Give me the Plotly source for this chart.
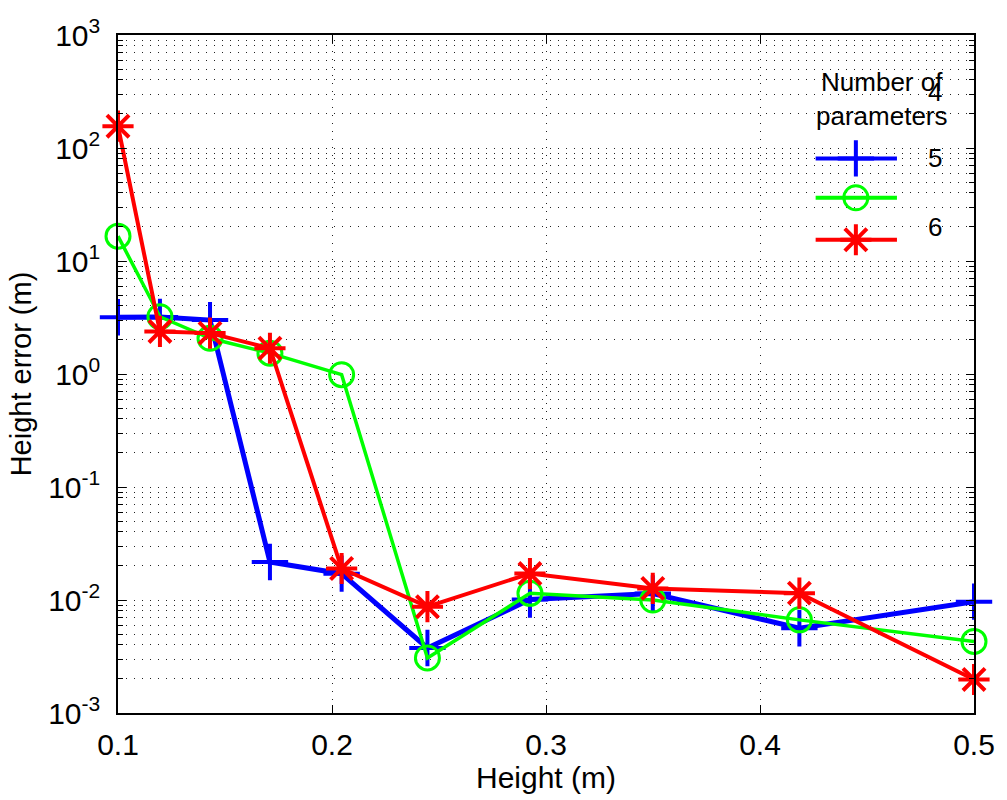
import plotly.graph_objects as go

# Reference heights (m) shared by all three fits
height = [0.1, 0.1196, 0.1430, 0.1710, 0.2045, 0.2446, 0.2925, 0.3499, 0.4184, 0.5]

# Height error (m) for each number of fitted parameters
err_4 = [3.18, 3.20, 3.00, 0.0217, 0.0171, 0.00376, 0.0101, 0.0114, 0.00563, 0.00967]
err_5 = [16.6, 3.21, 2.07, 1.53, 0.986, 0.00307, 0.01145, 0.0100, 0.00667, 0.0043]
err_6 = [156.0, 2.38, 2.30, 1.69, 0.0190, 0.00873, 0.01714, 0.01267, 0.0115, 0.00198]

legend_title = "Number of<br>parameters"
legend_labels = ["4", "5", "6"]

y_ticks = [1e-3, 1e-2, 1e-1, 1e0, 1e1, 1e2, 1e3]
y_ticktext = ["10<sup>-3</sup>", "10<sup>-2</sup>", "10<sup>-1</sup>", "10<sup>0</sup>",
              "10<sup>1</sup>", "10<sup>2</sup>", "10<sup>3</sup>"]
x_ticks = [0.1, 0.2, 0.3, 0.4, 0.5]

FONT = "Liberation Sans, Arial, sans-serif"
BLUE, GREEN, RED = "#0000FF", "#00FF00", "#FF0000"

series = [
    (err_4, BLUE, 5, dict(symbol="cross-thin", size=26, color=BLUE, line=dict(color=BLUE, width=4))),
    (err_5, GREEN, 3.5, dict(symbol="circle-open", size=24, color=GREEN, line=dict(color=GREEN, width=3))),
    (err_6, RED, 4, dict(symbol="asterisk-open", size=26, color=RED, line=dict(color=RED, width=4))),
]

fig = go.Figure()
for vals, col, lw, mk in series:
    fig.add_trace(go.Scatter(x=height, y=vals, mode="lines+markers",
                             line=dict(color=col, width=lw), marker=mk,
                             showlegend=False, cliponaxis=False))

# Hand-drawn legend samples on an overlay axis spanning the plot area
leg_y = [0.818, 0.760, 0.698]
for (vals, col, lw, mk), yy in zip(series, leg_y):
    fig.add_trace(go.Scatter(x=[0.815, 0.910], y=[yy, yy], mode="lines",
                             line=dict(color=col, width=4),
                             xaxis="x2", yaxis="y2", showlegend=False, hoverinfo="skip"))
    fig.add_trace(go.Scatter(x=[0.862], y=[yy], mode="markers", marker=mk,
                             xaxis="x2", yaxis="y2", showlegend=False, hoverinfo="skip"))

minor_vals = [m * 10 ** e for e in range(-3, 3) for m in range(2, 10)]

axis_common = dict(showline=True, linecolor="black", linewidth=1.5, mirror="allticks",
                   ticks="inside", tickcolor="black", ticklen=8, tickwidth=1,
                   gridcolor="#222222", griddash="1px,7px", gridwidth=1.3,
                   zeroline=False, tickfont=dict(family=FONT, size=30, color="black"))

fig.update_layout(
    width=1007, height=800,
    margin=dict(l=118, r=25, t=35, b=83),
    paper_bgcolor="white", plot_bgcolor="white",
    font=dict(family=FONT, color="black"),
    xaxis=dict(range=[0.1, 0.5], tickvals=x_ticks, ticktext=["0.1", "0.2", "0.3", "0.4", "0.5"],
               showgrid=True, ticklabelstandoff=4,
               title=dict(text="Height (m)", font=dict(family=FONT, size=30), standoff=6),
               **axis_common),
    yaxis=dict(type="log", range=[-3, 3], tickvals=y_ticks, ticktext=y_ticktext,
               showgrid=True, ticklabelstandoff=10,
               minor=dict(tickvals=minor_vals, showgrid=True, ticks="inside", ticklen=5,
                          tickcolor="black", gridcolor="#222222", griddash="1px,7px",
                          gridwidth=1.3),
               title=dict(text="Height error (m)", font=dict(family=FONT, size=29), standoff=8),
               **axis_common),
    xaxis2=dict(overlaying="x", range=[0, 1], visible=False, fixedrange=True),
    yaxis2=dict(overlaying="y", range=[0, 1], visible=False, fixedrange=True),
)

fig.add_annotation(text=legend_title, xref="paper", yref="paper", x=0.892, y=0.905,
                   showarrow=False, align="center", xanchor="center", yanchor="middle",
                   font=dict(family=FONT, size=26, color="black"), bgcolor="rgba(0,0,0,0)")
for lab, yy in zip(legend_labels, [0.916, 0.818, 0.717]):
    fig.add_annotation(text=lab, xref="paper", yref="paper", x=0.955, y=yy,
                       showarrow=False, xanchor="center", yanchor="middle",
                       font=dict(family=FONT, size=26, color="black"))

fig.write_html("out.html")
